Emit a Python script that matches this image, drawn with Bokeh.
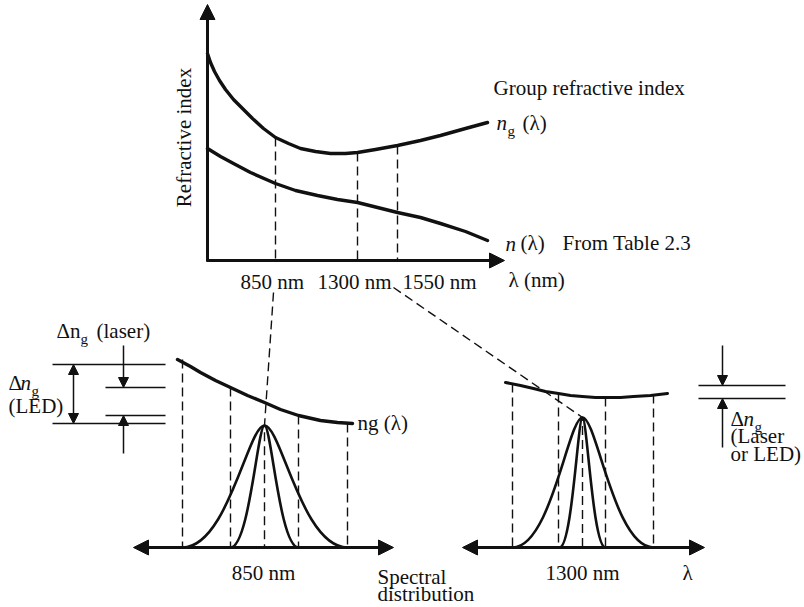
import math
from bokeh.plotting import figure
from bokeh.models import Range1d, Arrow, NormalHead, ColumnDataSource
from bokeh.core.properties import value
from bokeh.embed import file_html
from bokeh.resources import INLINE

INK = "#111111"
FONT = "Liberation Serif"

# ---------------- data (diagram units: x across, y down) ----------------
# upper panel curves
ng_top_x = [207, 210, 214, 219, 225, 233, 242, 252, 263, 275, 288, 300, 315, 330, 345, 357, 375, 397, 420, 440, 465, 487]
ng_top_y = [53, 62, 71, 80, 89, 99, 108, 118, 128, 137, 143, 148, 151, 153, 153, 152, 149, 145, 140, 135, 128, 122]
n_top_x = [207, 220, 233, 250, 275, 295, 317, 337, 357, 377, 397, 420, 440, 465, 487]
n_top_y = [148, 156, 163, 172, 183, 190, 195, 199, 202, 207, 212, 217, 223, 231, 240]

# lower-left ng(λ) near 850 nm
ng850_x = [177, 190, 200, 215, 230, 247, 264, 280, 298, 320, 337, 352]
ng850_y = [359, 366, 372, 380, 387, 395, 402, 409, 415, 420, 422, 423]
# lower-right ng(λ) near 1300 nm
ng1300_x = [505, 520, 533, 545, 558, 570, 582, 595, 605, 620, 633, 650, 667]
ng1300_y = [382, 385, 388, 391, 393, 395, 396, 397, 397, 397, 396, 395, 393]

# spectral distributions: left foot, peak, right foot, peak height
spec_names = ["LED 850", "laser 850", "LED 1300", "laser 1300"]
spec_left = [182, 230, 512, 559]
spec_peak = [264, 264, 582, 582]
spec_right = [347, 298, 653, 605]
spec_top = [425, 425, 417, 417]
base_y = [547, 547, 547, 547]

# dashed projection lines (x, top, bottom)
vdash_x = [275, 357, 397, 182, 230, 298, 347, 512, 558, 605, 653]
vdash_top = [137, 152, 145, 359, 387, 415, 423, 383, 393, 397, 394]
vdash_bot = [260, 260, 260, 547, 547, 547, 547, 547, 547, 547, 547]
slant_xs = [[273, 264, 264], [393, 582, 582]]
slant_ys = [[292, 425, 547], [287, 417, 547]]

# Δn_g reference lines
hl_x0 = [52, 105, 105, 52, 698, 698]
hl_x1 = [165, 165, 165, 165, 785, 785]
hl_y = [364, 387, 415, 423, 385, 398]

# labels
plain_text = ["Group refractive index", "(λ)", "(λ)", "From Table 2.3", "λ (nm)",
              "850 nm", "1300 nm", "1550 nm", "ng (λ)", "Spectral", "distribution",
              "λ", "Δn", "(laser)", "Δ", "(LED)", "Δ", "(Laser", "or LED)"]
plain_x = [493, 522, 520, 562, 508, 240, 317, 402, 357, 377, 377,
           682, 56, 96, 8, 8, 730, 730, 730]
plain_y = [87, 122, 242, 242, 279, 281, 281, 281, 422, 576, 593,
           572, 330, 330, 382, 405, 418, 435, 453]
italic_text = ["n", "n", "n", "n"]
italic_x = [496, 505, 20, 743]
italic_y = [122, 243, 382, 418]
sub_text = ["g", "g", "g", "g"]
sub_x = [507, 80, 31, 754]
sub_y = [130, 338, 390, 426]
center_text = ["850 nm", "1300 nm"]
center_x = [263, 582]
center_y = [572, 572]

# ---------------- figure ----------------
p = figure(width=804, height=607, output_backend="svg", toolbar_location=None,
           x_range=Range1d(0, 804), y_range=Range1d(607, 0),
           min_border=0, outline_line_color=None, background_fill_color="white")
p.axis.visible = False
p.grid.visible = False

# curves
for xs, ys, w in [(ng_top_x, ng_top_y, 3.4), (n_top_x, n_top_y, 3.4),
                  (ng850_x, ng850_y, 3.4), (ng1300_x, ng1300_y, 3.0)]:
    p.line(xs, ys, line_width=w, color=INK, line_join="round", line_cap="round")

# spectra as two S-shaped halves each
bx0, by0, bx1, by1, c0x, c0y, c1x, c1y = [], [], [], [], [], [], [], []
for L, P, R, T, B in zip(spec_left, spec_peak, spec_right, spec_top, base_y):
    wl, wr = P - L, R - P
    bx0 += [L, P]; by0 += [B, T]
    bx1 += [P, R]; by1 += [T, B]
    c0x += [L + 0.55 * wl, P + 0.2 * wr]; c0y += [B, T]
    c1x += [L + 0.8 * wl, P + 0.45 * wr]; c1y += [T, B]
p.bezier(x0=bx0, y0=by0, x1=bx1, y1=by1, cx0=c0x, cy0=c0y, cx1=c1x, cy1=c1y,
         line_width=2.6, line_color=INK)

# dashed lines
p.segment(x0=vdash_x, y0=vdash_top, x1=vdash_x, y1=vdash_bot,
          line_width=1.4, line_color=INK, line_dash="9 5")
p.multi_line(xs=slant_xs, ys=slant_ys, line_width=1.4, line_color=INK, line_dash="9 5")

# reference lines
p.segment(x0=hl_x0, y0=hl_y, x1=hl_x1, y1=hl_y, line_width=1.6, line_color=INK)

# axes with arrow heads
def arrow(xs, ys, xe, ye, w, size, both=False):
    kw = dict(end=NormalHead(size=size, fill_color=INK, line_color=INK, line_width=1),
              x_start=xs, y_start=ys, x_end=xe, y_end=ye, line_width=w, line_color=INK)
    if both:
        kw["start"] = NormalHead(size=size, fill_color=INK, line_color=INK, line_width=1)
    p.add_layout(Arrow(**kw))

arrow(207, 261, 207, 4, 3, 15)
arrow(206, 260, 504, 260, 3, 15)
arrow(133, 547, 393, 547, 3, 15, both=True)
arrow(462, 547, 704, 547, 3, 15, both=True)
arrow(73, 364, 73, 423, 1.5, 10, both=True)
arrow(123, 345, 123, 387, 1.5, 10)
arrow(123, 453, 123, 415, 1.5, 10)
arrow(722, 345, 722, 385, 1.5, 10)
arrow(722, 447, 722, 398, 1.5, 10)

# ---------------- texts ----------------
def texts(xs, ys, ts, size="21px", style="normal", align="left", angle=0):
    src = ColumnDataSource(dict(x=xs, y=ys, t=ts))
    p.text(x="x", y="y", text="t", source=src, text_font=value(FONT),
           text_font_size=size, text_font_style=style, text_align=align,
           text_baseline="middle", text_color=INK, angle=angle)

texts(plain_x, plain_y, plain_text)
texts(italic_x, italic_y, italic_text, style="italic")
texts(sub_x, sub_y, sub_text, size="15px")
texts(center_x, center_y, center_text, align="center")
texts([183], [137], ["Refractive index"], align="center", angle=math.pi / 2)

open("out.html", "w").write(file_html(p, INLINE))
